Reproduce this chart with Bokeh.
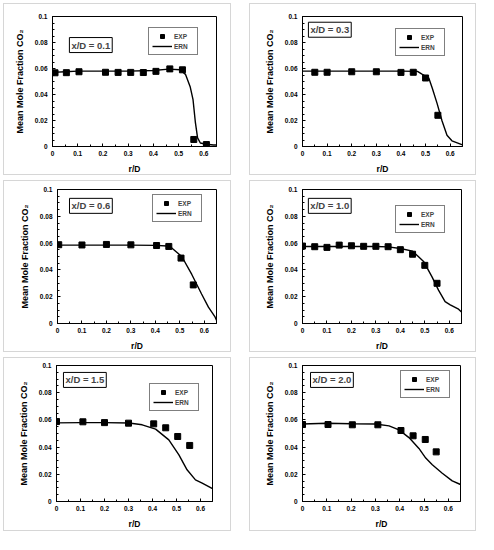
from bokeh.plotting import figure
from bokeh.models import Range1d, FixedTicker, Legend, LegendItem, Label
from bokeh.layouts import row, column
from bokeh.embed import file_html
from bokeh.resources import INLINE

# ---------------- data ----------------
titles = ["x/D = 0.1", "x/D = 0.3", "x/D = 0.6", "x/D = 1.0", "x/D = 1.5", "x/D = 2.0"]

exp_r_01 = [0.01, 0.055, 0.105, 0.21, 0.26, 0.31, 0.36, 0.41, 0.465, 0.515, 0.56, 0.61]
exp_v_01 = [0.0567, 0.0568, 0.0575, 0.0571, 0.0570, 0.0570, 0.0569, 0.0578, 0.0597, 0.0590, 0.0054, 0.0015]
ern_r_01 = [0.0, 0.05, 0.1, 0.2, 0.3, 0.4, 0.46, 0.506, 0.527, 0.546, 0.557, 0.566, 0.575, 0.586, 0.61, 0.638, 0.65]
ern_v_01 = [0.0570, 0.0575, 0.0580, 0.0580, 0.0580, 0.0585, 0.0595, 0.0590, 0.0555, 0.0457, 0.0360, 0.0190, 0.0066, 0.0027, 0.0017, 0.0012, 0.0011]

exp_r_03 = [0.05, 0.1, 0.2, 0.3, 0.4, 0.45, 0.5, 0.55]
exp_v_03 = [0.0571, 0.0571, 0.0575, 0.0575, 0.0570, 0.0571, 0.0527, 0.0240]
ern_r_03 = [0.0, 0.1, 0.2, 0.3, 0.4, 0.467, 0.487, 0.513, 0.527, 0.547, 0.567, 0.587, 0.607, 0.65]
ern_v_03 = [0.0580, 0.0580, 0.0580, 0.0580, 0.0580, 0.0578, 0.0555, 0.0527, 0.0450, 0.0330, 0.0196, 0.0086, 0.0044, 0.0012]

exp_r_06 = [0.005, 0.1, 0.2, 0.3, 0.405, 0.455, 0.505, 0.555]
exp_v_06 = [0.0588, 0.0586, 0.0590, 0.0587, 0.0582, 0.0575, 0.0488, 0.0288]
ern_r_06 = [0.0, 0.1, 0.2, 0.3, 0.4, 0.45, 0.46, 0.508, 0.549, 0.589, 0.617, 0.644, 0.65]
ern_v_06 = [0.0585, 0.0585, 0.0585, 0.0585, 0.0583, 0.0578, 0.0575, 0.0500, 0.0366, 0.0220, 0.0122, 0.0049, 0.0025]

exp_r_10 = [0.0, 0.05, 0.1, 0.15, 0.2, 0.25, 0.3, 0.35, 0.4, 0.45, 0.5, 0.55]
exp_v_10 = [0.0578, 0.0573, 0.0568, 0.0585, 0.0580, 0.0576, 0.0576, 0.0573, 0.0551, 0.0517, 0.0434, 0.0300]
ern_r_10 = [0.0, 0.1, 0.2, 0.3, 0.35, 0.4, 0.45, 0.495, 0.53, 0.556, 0.583, 0.604, 0.638, 0.65]
ern_v_10 = [0.0575, 0.0575, 0.0575, 0.0575, 0.0572, 0.0560, 0.0540, 0.0463, 0.0346, 0.0249, 0.0163, 0.0139, 0.0107, 0.0085]

exp_r_15 = [0.0, 0.11, 0.2, 0.3, 0.405, 0.455, 0.505, 0.555]
exp_v_15 = [0.0588, 0.0586, 0.0580, 0.0576, 0.0571, 0.0542, 0.0478, 0.0412]
ern_r_15 = [0.0, 0.1, 0.2, 0.302, 0.357, 0.413, 0.468, 0.51, 0.544, 0.579, 0.607, 0.65]
ern_v_15 = [0.0578, 0.0580, 0.0580, 0.0577, 0.0564, 0.0532, 0.0453, 0.0343, 0.0233, 0.0159, 0.0135, 0.0095]

exp_r_20 = [0.0, 0.105, 0.205, 0.31, 0.405, 0.455, 0.505, 0.55]
exp_v_20 = [0.0566, 0.0566, 0.0564, 0.0564, 0.0522, 0.0483, 0.0456, 0.0365]
ern_r_20 = [0.0, 0.1, 0.2, 0.3, 0.356, 0.397, 0.438, 0.479, 0.507, 0.534, 0.575, 0.616, 0.65]
ern_v_20 = [0.0570, 0.0575, 0.0572, 0.0570, 0.0556, 0.0527, 0.0470, 0.0390, 0.0319, 0.0270, 0.0208, 0.0152, 0.0125]

x_ticks = [0.0, 0.1, 0.2, 0.3, 0.4, 0.5, 0.6]
x_tick_labels = ["0", "0.1", "0.2", "0.3", "0.4", "0.5", "0.6"]
x_minor = [0.05, 0.15, 0.25, 0.35, 0.45, 0.55, 0.65]
y_ticks = [0.0, 0.02, 0.04, 0.06, 0.08, 0.1]
y_tick_labels = ["0", "0.02", "0.04", "0.06", "0.08", "0.1"]
y_minor = [0.005 * i for i in range(21)]

series = [
    (exp_r_01, exp_v_01, ern_r_01, ern_v_01),
    (exp_r_03, exp_v_03, ern_r_03, ern_v_03),
    (exp_r_06, exp_v_06, ern_r_06, ern_v_06),
    (exp_r_10, exp_v_10, ern_r_10, ern_v_10),
    (exp_r_15, exp_v_15, ern_r_15, ern_v_15),
    (exp_r_20, exp_v_20, ern_r_20, ern_v_20),
]

# ---------------- layout/style ----------------
FONT = "Liberation Sans"
# width, height, border left, top, right, bottom, margin (top,right,bottom,left)
panel_geo = [
    (228, 172, 48, 12, 16, 27, (3, 0, 0, 3)),
    (227, 172, 52, 8, 15, 28, (3, 0, 0, 18)),
    (228, 172, 53, 8, 16, 28, (5, 0, 0, 3)),
    (227, 172, 52, 8, 16, 28, (5, 0, 0, 18)),
    (228, 174, 52, 7, 20, 31, (5, 0, 0, 3)),
    (227, 174, 52, 7, 17, 31, (5, 0, 0, 18)),
]
label_pos = [(0.067, 0.0838), (0.024, 0.0956), (0.049, 0.0934),
             (0.024, 0.0934), (0.029, 0.0949), (0.033, 0.0949)]
legend_pos = [(96, 91), (93, 90), (95, 101), (93, 90), (93, 90), (98, 103)]


def make_panel(i):
    w, h, bl, bt, br, bb, mg = panel_geo[i]
    er, ev, nr, nv = series[i]
    p = figure(width=w, height=h, x_range=Range1d(0, 0.65), y_range=Range1d(0, 0.1),
               output_backend="svg", toolbar_location=None,
               min_border_left=bl, min_border_top=bt, min_border_right=br, min_border_bottom=bb,
               margin=mg, styles={"border": "1px solid #d6d6d6", "box-sizing": "border-box"})
    p.xgrid.visible = False
    p.ygrid.visible = False
    p.outline_line_color = "black"
    p.outline_line_width = 1
    p.outline_line_alpha = 1

    p.xaxis.ticker = FixedTicker(ticks=x_ticks, minor_ticks=x_minor)
    p.yaxis.ticker = FixedTicker(ticks=y_ticks, minor_ticks=y_minor)
    p.xaxis.major_label_overrides = {t: l for t, l in zip(x_ticks, x_tick_labels)}
    p.yaxis.major_label_overrides = {t: l for t, l in zip(y_ticks, y_tick_labels)}
    for ax in (p.xaxis[0], p.yaxis[0]):
        ax.axis_line_color = "black"
        ax.major_tick_line_color = "black"
        ax.minor_tick_line_color = "black"
        ax.major_tick_in = 3
        ax.major_tick_out = 0
        ax.minor_tick_in = 2
        ax.minor_tick_out = 0
        ax.major_label_text_font = FONT
        ax.major_label_text_font_style = "bold"
        ax.major_label_text_font_size = "6.5px"
        ax.major_label_text_color = "black"
        ax.axis_label_text_font = FONT
        ax.axis_label_text_font_style = "bold"
        ax.axis_label_text_color = "black"
    p.xaxis.major_label_standoff = 4
    p.yaxis.major_label_standoff = 5
    p.xaxis.axis_label = "r/D"
    p.yaxis.axis_label = "Mean Mole Fraction CO\u2082"
    p.xaxis.axis_label_text_font_size = "8.5px"
    p.yaxis.axis_label_text_font_size = "9px"
    p.xaxis.axis_label_standoff = 5
    p.yaxis.axis_label_standoff = 7

    ln = p.line(nr, nv, line_color="black", line_width=1.4)
    sc = p.scatter(er, ev, marker="square", size=6, fill_color="black", line_color="black")

    leg = Legend(items=[LegendItem(label="EXP", renderers=[sc]),
                        LegendItem(label="ERN", renderers=[ln])],
                 location=legend_pos[i])
    leg.label_text_font = FONT
    leg.label_text_font_style = "bold"
    leg.label_text_font_size = "6.5px"
    leg.label_height = 10
    leg.glyph_height = 10
    leg.glyph_width = 20
    leg.label_width = 20
    leg.label_standoff = 2
    leg.padding = 3
    leg.spacing = 0
    leg.border_line_color = "black"
    leg.border_line_width = 1
    leg.background_fill_color = "white"
    leg.background_fill_alpha = 1
    p.add_layout(leg, "center")

    lx, ly = label_pos[i]
    lab = Label(x=lx, y=ly, text=titles[i], text_font=FONT, text_font_style="bold",
                text_font_size="9.5px", text_align="left", text_baseline="top",
                border_line_color="black", border_line_width=1,
                background_fill_color="white", padding=2)
    p.add_layout(lab)
    return p


panels = [make_panel(i) for i in range(6)]
layout = column(row(panels[0], panels[1]), row(panels[2], panels[3]), row(panels[4], panels[5]))

open("out.html", "w").write(file_html(layout, INLINE))
